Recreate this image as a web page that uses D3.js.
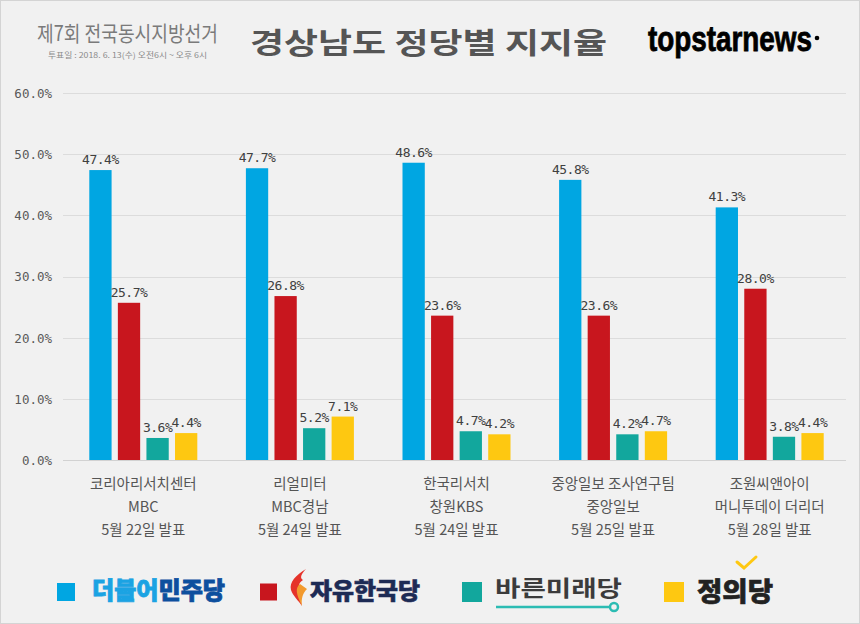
<!DOCTYPE html>
<html><head><meta charset="utf-8">
<script src="https://cdn.jsdelivr.net/npm/d3@7"></script>
<style>body{margin:0;background:#fff}svg{display:block}</style>
</head><body><svg id="c" width="860" height="624"></svg>
<script>
// ---- data ----
const pollsters = ["코리아리서치센터", "리얼미터", "한국리서치", "중앙일보 조사연구팀", "조원씨앤아이"];
const sponsors  = ["MBC", "MBC경남", "창원KBS", "중앙일보", "머니투데이 더리더"];
const dates     = ["5월 22일 발표", "5월 24일 발표", "5월 24일 발표", "5월 25일 발표", "5월 28일 발표"];
const parties   = ["더불어민주당", "자유한국당", "바른미래당", "정의당"];
const colors    = ["#00a6e2", "#c8161e", "#12a79d", "#fec811"];
const minjoo    = [47.4, 47.7, 48.6, 45.8, 41.3];
const jayu      = [25.7, 26.8, 23.6, 23.6, 28.0];
const bareun    = [3.6, 5.2, 4.7, 4.2, 3.8];
const jeongui   = [4.4, 7.1, 4.2, 4.7, 4.4];
const yTicks    = [0, 10, 20, 30, 40, 50, 60];

const series = [minjoo, jayu, bareun, jeongui];
const rows = pollsters.map((p, i) => ({ key: p, i, vals: series.map(s => s[i]) }));

const svg = d3.select("#c");
const W = 860, H = 624;
svg.append("rect").attr("x", 0.5).attr("y", 0.5).attr("width", W - 1).attr("height", H - 1)
  .attr("fill", "#f1f1f1").attr("stroke", "#d4d4d4");

// ---- header ----
const KR = "'Noto Sans CJK KR','Noto Sans',sans-serif";
svg.append("text").attr("x", 37).attr("y", 41).attr("font-family", KR).attr("font-size", 21)
  .attr("fill", "#7a7a7a").attr("textLength", 181).attr("lengthAdjust", "spacingAndGlyphs")
  .text("제7회 전국동시지방선거");
svg.append("text").attr("x", 48).attr("y", 58).attr("font-family", KR).attr("font-size", 8)
  .attr("fill", "#8a8a8a").attr("textLength", 159).attr("lengthAdjust", "spacingAndGlyphs")
  .text("투표일 : 2018. 6. 13(수) 오전6시 ~ 오후 6시");
svg.append("text").attr("x", 250).attr("y", 54).attr("font-family", KR).attr("font-size", 29)
  .attr("font-weight", "bold").attr("fill", "#555").attr("textLength", 357).attr("lengthAdjust", "spacingAndGlyphs")
  .text("경상남도 정당별 지지율");
svg.append("text").attr("x", 648).attr("y", 51).attr("font-family", "'Liberation Sans',Arial,sans-serif")
  .attr("font-size", 35).attr("font-weight", "bold").attr("fill", "#000").attr("textLength", 164)
  .attr("lengthAdjust", "spacingAndGlyphs").attr("stroke", "#000").attr("stroke-width", 0.8).text("topstarnews");
svg.append("circle").attr("cx", 817).attr("cy", 38).attr("r", 2.3).attr("fill", "#000");

// ---- scales ----
const x0 = d3.scaleBand().domain(pollsters).range([65, 848]).padding(0);
const x1 = d3.scaleBand().domain(d3.range(parties.length))
  .range([24.3, 24.3 + 108]).paddingInner(0.22).paddingOuter(0);
const y = d3.scaleLinear().domain([0, 60]).range([460, 93]);

// grid
const grid = svg.append("g");
grid.selectAll("line").data(yTicks).join("line")
  .attr("x1", 63).attr("x2", 846).attr("y1", d => Math.round(y(d)) + 0.5).attr("y2", d => Math.round(y(d)) + 0.5)
  .attr("stroke", d => d === 0 ? "#d2d2d2" : "#dcdcdc").attr("stroke-width", 1);

// y axis labels
const yAxis = d3.axisLeft(y).tickValues(yTicks).tickSize(0).tickPadding(0)
  .tickFormat(d => d3.format(".1f")(d) + "%");
const ya = svg.append("g").attr("transform", "translate(52,0)").call(yAxis);
ya.select(".domain").remove();
ya.selectAll("text").attr("font-family", "'DejaVu Sans Mono',monospace").attr("font-size", 12.5)
  .attr("fill", "#595959").attr("dy", "0.35em");

// bars
const g = svg.append("g");
const grp = g.selectAll("g").data(rows).join("g").attr("transform", d => `translate(${x0(d.key)},0)`);
grp.selectAll("rect").data(d => d.vals.map((v, j) => ({ v, j }))).join("rect")
  .attr("x", d => x1(d.j)).attr("width", x1.bandwidth())
  .attr("y", d => y(d.v)).attr("height", d => y(0) - y(d.v))
  .attr("fill", d => colors[d.j]);
grp.selectAll("text.v").data(d => d.vals.map((v, j) => ({ v, j }))).join("text").attr("class", "v")
  .attr("x", d => x1(d.j) + x1.bandwidth() / 2).attr("y", d => y(d.v) - 6)
  .attr("text-anchor", "middle").attr("font-family", "'DejaVu Sans Mono',monospace")
  .attr("font-size", 13).attr("fill", "#404040").attr("letter-spacing", -0.5)
  .text(d => d3.format(".1f")(d.v) + "%");

// category labels
const labelLines = [pollsters, sponsors, dates];
const lineY = [484, 507, 530];
labelLines.forEach((arr, k) => {
  svg.append("g").selectAll("text").data(arr).join("text")
    .attr("x", (d, i) => x0(pollsters[i]) + x0.bandwidth() / 2)
    .attr("y", lineY[k]).attr("dy", "0.35em").attr("text-anchor", "middle")
    .attr("font-family", KR).attr("font-size", 14.5).attr("fill", "#555").text(d => d);
});

// ---- legend ----
const lg = svg.append("g");
const lx = [57, 260, 462, 664];
const sq = [18, 17, 20, 20];
parties.forEach((p, i) => {
  lg.append("rect").attr("x", lx[i]).attr("y", 592 - sq[i] / 2).attr("width", sq[i]).attr("height", sq[i])
    .attr("fill", colors[i]);
});
// 더불어민주당
const t0 = lg.append("text").attr("x", 92).attr("y", 591).attr("dy", "0.35em").attr("font-family", KR)
  .attr("font-size", 24).attr("font-weight", "900").attr("textLength", 133).attr("lengthAdjust", "spacingAndGlyphs")
  .attr("stroke-width", 0.8);
t0.append("tspan").attr("fill", "#1ba3e3").attr("stroke", "#1ba3e3").text(parties[0].slice(0, 3));
t0.append("tspan").attr("fill", "#0d4f9e").attr("stroke", "#0d4f9e").text(parties[0].slice(3));
// flame + 자유한국당
lg.append("path").attr("d", "M306,569 C296,575 289,582 291,590 C293,596 298,600 302,606 C300,599 299,594 304,590 C298,589 297,584 303,580 C299,578 302,573 306,569 Z")
  .attr("fill", "#e5332a");
lg.append("path").attr("d", "M300,584 C295,588 296,594 302,606 C301,598 303,593 307,589 Z").attr("fill", "#f29a2e");
lg.append("text").attr("x", 310).attr("y", 591).attr("dy", "0.35em").attr("font-family", KR)
  .attr("font-size", 23).attr("font-weight", "900").attr("fill", "#1d2b55").attr("stroke", "#1d2b55").attr("stroke-width", 0.6)
  .attr("textLength", 110).attr("lengthAdjust", "spacingAndGlyphs").text(parties[1]);
// 바른미래당
lg.append("text").attr("x", 495).attr("y", 588).attr("dy", "0.35em").attr("font-family", KR)
  .attr("font-size", 22).attr("font-weight", "bold").attr("fill", "#3b3b3b")
  .attr("textLength", 127).attr("lengthAdjust", "spacingAndGlyphs").text(parties[2]);
lg.append("line").attr("x1", 496).attr("x2", 610).attr("y1", 607).attr("y2", 607)
  .attr("stroke", "#2cbcb3").attr("stroke-width", 2.5);
lg.append("circle").attr("cx", 614).attr("cy", 607).attr("r", 4).attr("fill", "none")
  .attr("stroke", "#2cbcb3").attr("stroke-width", 2.5);
// 정의당
lg.append("text").attr("x", 697).attr("y", 592).attr("dy", "0.35em").attr("font-family", KR)
  .attr("font-size", 26).attr("font-weight", "900").attr("fill", "#222").attr("stroke", "#222").attr("stroke-width", 0.6)
  .attr("textLength", 76).attr("lengthAdjust", "spacingAndGlyphs").text(parties[3]);
lg.append("path").attr("d", "M737,562 L744,568 L756,557").attr("fill", "none")
  .attr("stroke", "#fec811").attr("stroke-width", 3).attr("stroke-linecap", "round");
</script>
</body></html>
